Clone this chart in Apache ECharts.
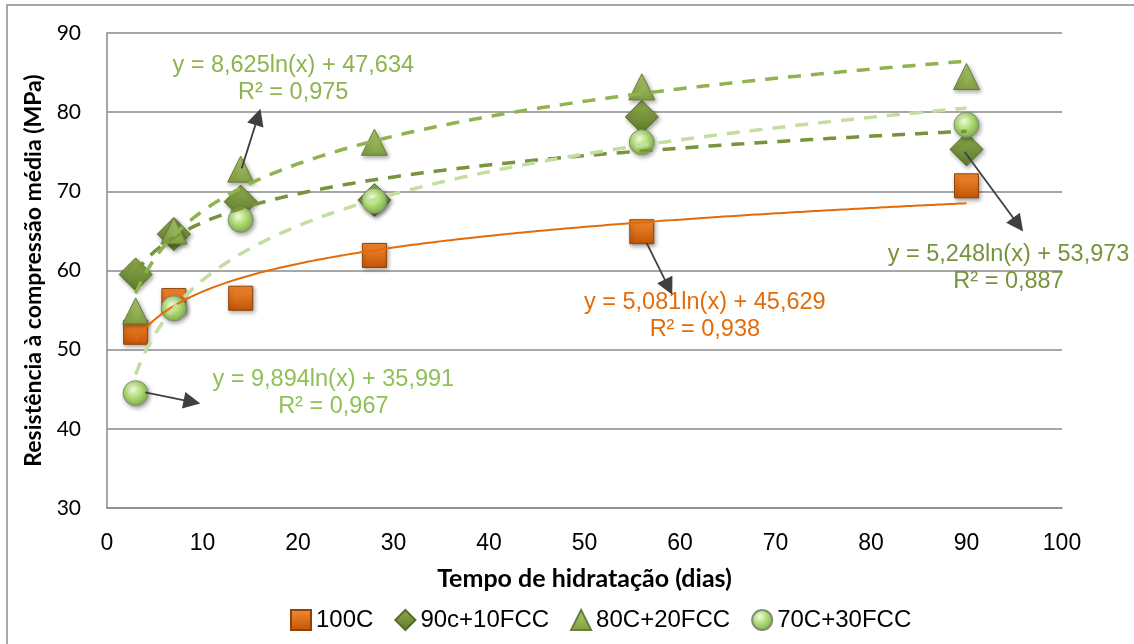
<!DOCTYPE html>
<html>
<head>
<meta charset="utf-8">
<script src="https://cdn.jsdelivr.net/npm/echarts@6/dist/echarts.min.js"></script>
<style>
  html, body { margin: 0; padding: 0; background: #fff; }
  #chart { width: 1134px; height: 644px; }
</style>
</head>
<body>
<div id="chart"></div>
<script>
// Hydration time (days) at which each mix was tested
const days = [3, 7, 14, 28, 56, 90];

// Mean compressive strength (MPa) per mix
const s100C      = [52.2, 56.2, 56.5, 61.9, 64.9, 70.7];
const s90c10FCC  = [59.5, 64.6, 68.7, 68.9, 79.4, 75.3];
const s80C20FCC  = [54.9, 65.0, 72.8, 76.2, 83.2, 84.5];
const s70C30FCC  = [44.5, 55.2, 66.4, 68.8, 76.2, 78.4];

const seriesNames = ['100C', '90c+10FCC', '80C+20FCC', '70C+30FCC'];

// Logarithmic trendlines y = a·ln(x) + b, with their R²
const trendSlopes     = [5.081, 5.248, 8.625, 9.894];
const trendIntercepts = [45.629, 53.973, 47.634, 35.991];
const trendR2         = ['0,938', '0,887', '0,975', '0,967'];

// Where each equation box sits and where its pointer arrow runs (data units)
const eqCenters = [[62.6, 54.3], [94.4, 60.3], [19.5, 84.25], [23.7, 44.5]];
const arrowFrom = [[56.5, 63.5], [89.8, 75.0], [14.1, 72.9], [4.0, 44.6]];
const arrowTo   = [[58.8, 57.9], [95.4, 65.8], [15.8, 79.4], [8.9, 43.4]];

// Axis ranges
const xMin = 0, xMax = 100, xStep = 10;
const yMin = 30, yMax = 90, yStep = 10;

const values = [s100C, s90c10FCC, s80C20FCC, s70C30FCC];

function lin(c1, c2) {
  return { type: 'linear', x: 0, y: 0, x2: 0, y2: 1,
    colorStops: [{ offset: 0, color: c1 }, { offset: 1, color: c2 }] };
}

const markerStyles = [
  { symbol: 'rect', size: 24,
    item: { color: lin('#F58A2E', '#C25508'), borderColor: '#8E4308', borderWidth: 1 } },
  { symbol: 'diamond', size: 33,
    item: { color: lin('#8FAE50', '#5C7828'), borderColor: '#556D25', borderWidth: 1 } },
  { symbol: 'triangle', size: 26,
    item: { color: lin('#ADC96E', '#819F42'), borderColor: '#687F39', borderWidth: 1 } },
  { symbol: 'circle', size: 25,
    item: { color: { type: 'radial', x: 0.4, y: 0.35, r: 0.7,
              colorStops: [{ offset: 0, color: '#F1FADF' }, { offset: 0.45, color: '#B2DE78' },
                           { offset: 1, color: '#78A546' }] },
            borderColor: '#7F8F75', borderWidth: 1 } }
];

const trendStyles = [
  { color: '#E36C09', width: 2, type: 'solid' },
  { color: '#77933C', width: 3.5, type: [13, 10] },
  { color: '#8FB34E', width: 3.5, type: [13, 10] },
  { color: '#C3DE9E', width: 3.5, type: [13, 10] }
];
const labelColors = ['#E36C09', '#77933C', '#8FB34E', '#8FC154'];

function fmt(v) { return v.toFixed(3).replace('.', ','); }

const series = [];

// Measured points
seriesNames.forEach(function (name, i) {
  series.push({
    name: name,
    type: 'scatter',
    z: 2,
    symbol: markerStyles[i].symbol,
    symbolSize: markerStyles[i].size,
    itemStyle: Object.assign({
      opacity: 1,
      shadowBlur: 4, shadowOffsetX: 1.5, shadowOffsetY: 2,
      shadowColor: 'rgba(0,0,0,0.35)'
    }, markerStyles[i].item),
    emphasis: { disabled: true },
    data: days.map(function (d, k) { return [d, values[i][k]]; })
  });
});

// Trend curves, with equation text and pointer arrow
seriesNames.forEach(function (name, i) {
  const a = trendSlopes[i], b = trendIntercepts[i];
  const curve = [];
  const x0 = days[0], x1 = days[days.length - 1];
  const steps = 240;
  for (let k = 0; k <= steps; k++) {
    const x = x0 + (x1 - x0) * k / steps;
    curve.push([x, a * Math.log(x) + b]);
  }
  series.push({
    name: name + ' (tendência)',
    type: 'line',
    z: 4,
    showSymbol: false,
    smooth: false,
    silent: true,
    lineStyle: trendStyles[i],
    data: curve,
    markPoint: {
      symbol: 'rect', symbolSize: 1,
      itemStyle: { color: 'rgba(0,0,0,0)' },
      silent: true,
      label: {
        show: true, position: 'inside',
        color: labelColors[i],
        fontFamily: 'Liberation Sans, Arial, sans-serif',
        fontSize: 23.5, lineHeight: 27, align: 'center',
        formatter: 'y = ' + fmt(a) + 'ln(x) + ' + fmt(b) + '\nR² = ' + trendR2[i]
      },
      data: [{ coord: eqCenters[i] }]
    },
    markLine: {
      silent: true,
      symbol: ['none', 'triangle'],
      symbolSize: 17,
      lineStyle: { color: '#404040', width: 1.8, type: 'solid' },
      itemStyle: { color: '#404040' },
      label: { show: false },
      emphasis: { disabled: true },
      data: [[{ coord: arrowFrom[i] }, { coord: arrowTo[i] }]]
    }
  });
});

const chart = echarts.init(document.getElementById('chart'), null, { renderer: 'canvas' });

chart.setOption({
  animation: false,
  backgroundColor: '#ffffff',
  grid: { left: 107, right: 72, top: 33, bottom: 136, containLabel: false },
  legend: {
    data: seriesNames,
    left: 285, top: 603,
    itemWidth: 20, itemHeight: 20, itemGap: 21,
    textStyle: { fontFamily: 'Liberation Sans, Arial, sans-serif', fontSize: 24, color: '#000' }
  },
  xAxis: {
    type: 'value', min: xMin, max: xMax, interval: xStep,
    name: 'Tempo de hidratação (dias)',
    nameLocation: 'middle', nameGap: 58,
    nameTextStyle: { fontFamily: 'Lato, sans-serif', fontWeight: 'bold', fontSize: 25, color: '#000' },
    axisLine: { show: true, lineStyle: { color: '#8a8a8a', width: 1.5 } },
    axisTick: { show: false },
    splitLine: { show: false },
    axisLabel: { margin: 24, fontFamily: 'Liberation Sans, Arial, sans-serif', fontSize: 23, color: '#000' }
  },
  yAxis: {
    type: 'value', min: yMin, max: yMax, interval: yStep,
    name: 'Resistência à compressão média (MPa)',
    nameLocation: 'middle', nameGap: 62,
    nameTextStyle: { fontFamily: 'Lato, sans-serif', fontWeight: 'bold', fontSize: 23, color: '#000' },
    axisLine: { show: true, lineStyle: { color: '#8a8a8a', width: 1.5 } },
    axisTick: { show: false },
    splitLine: { show: true, lineStyle: { color: '#8a8a8a', width: 1.5 } },
    axisLabel: { margin: 26, fontFamily: 'Lato, sans-serif', fontSize: 21, color: '#000' }
  },
  graphic: [{
    type: 'polyline',
    silent: true,
    shape: { points: [[7, 644], [7, 5], [1134, 5]] },
    style: { stroke: '#8a8a8a', lineWidth: 1.5, fill: null }
  }],
  series: series
});
</script>
</body>
</html>
